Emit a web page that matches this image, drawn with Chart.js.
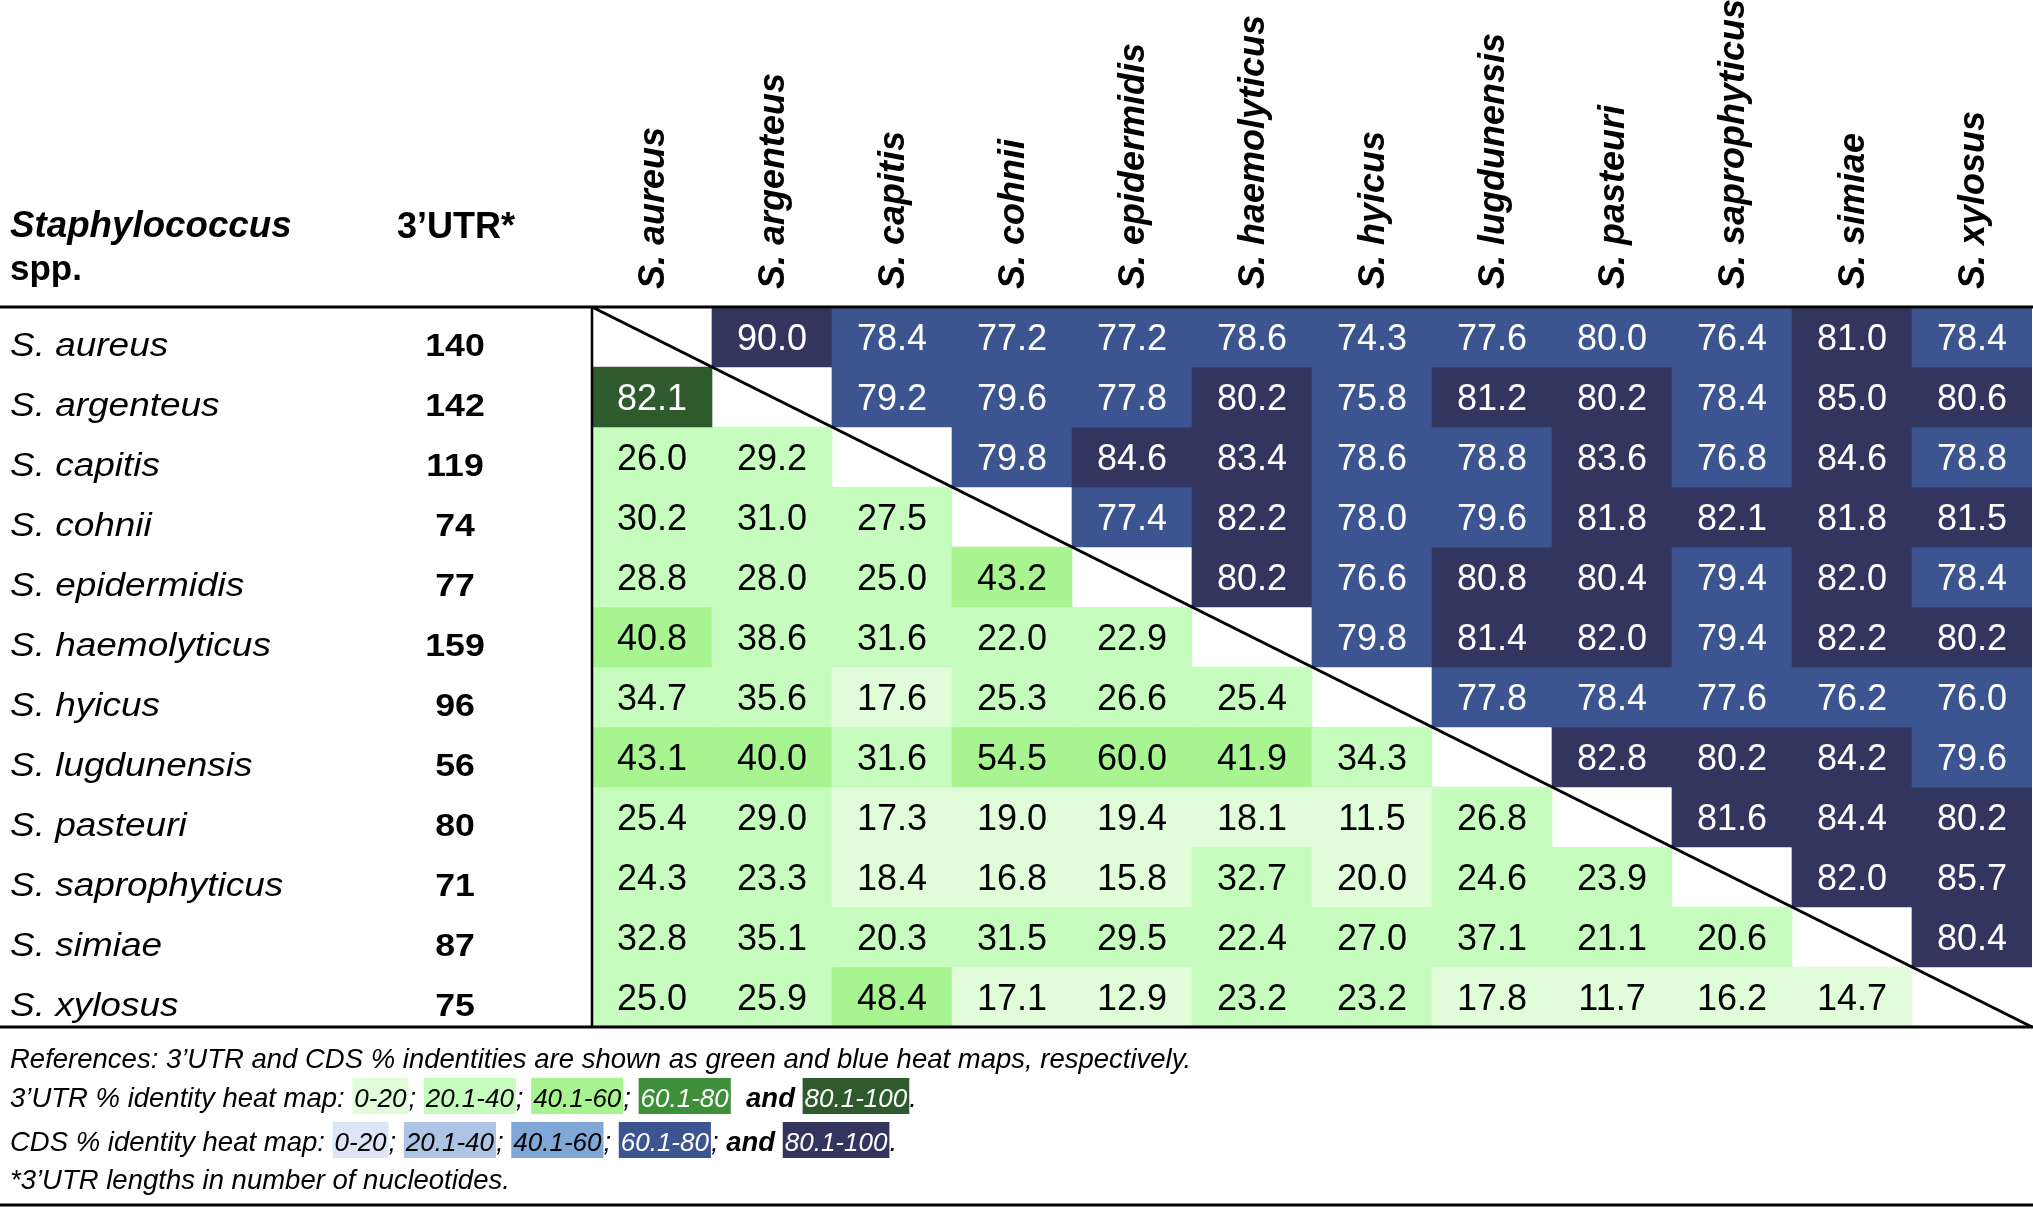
<!DOCTYPE html>
<html><head><meta charset="utf-8">
<script src="https://cdn.jsdelivr.net/npm/chart.js@4.4.1/dist/chart.umd.min.js"></script>
<style>html,body{margin:0;padding:0;background:#fff;overflow:hidden}canvas{display:block}</style>
</head><body>
<canvas id="c" width="2033" height="1208"></canvas>
<script>
// ---------- DATA ----------
const species = ['S. aureus','S. argenteus','S. capitis','S. cohnii','S. epidermidis','S. haemolyticus','S. hyicus','S. lugdunensis','S. pasteuri','S. saprophyticus','S. simiae','S. xylosus'];
const utrLength = [140,142,119,74,77,159,96,56,80,71,87,75];
// below the diagonal: 3'UTR % identity; above the diagonal: CDS % identity
const rowAureus       = [null,90.0,78.4,77.2,77.2,78.6,74.3,77.6,80.0,76.4,81.0,78.4];
const rowArgenteus    = [82.1,null,79.2,79.6,77.8,80.2,75.8,81.2,80.2,78.4,85.0,80.6];
const rowCapitis      = [26.0,29.2,null,79.8,84.6,83.4,78.6,78.8,83.6,76.8,84.6,78.8];
const rowCohnii       = [30.2,31.0,27.5,null,77.4,82.2,78.0,79.6,81.8,82.1,81.8,81.5];
const rowEpidermidis  = [28.8,28.0,25.0,43.2,null,80.2,76.6,80.8,80.4,79.4,82.0,78.4];
const rowHaemolyticus = [40.8,38.6,31.6,22.0,22.9,null,79.8,81.4,82.0,79.4,82.2,80.2];
const rowHyicus       = [34.7,35.6,17.6,25.3,26.6,25.4,null,77.8,78.4,77.6,76.2,76.0];
const rowLugdunensis  = [43.1,40.0,31.6,54.5,60.0,41.9,34.3,null,82.8,80.2,84.2,79.6];
const rowPasteuri     = [25.4,29.0,17.3,19.0,19.4,18.1,11.5,26.8,null,81.6,84.4,80.2];
const rowSaprophyticus= [24.3,23.3,18.4,16.8,15.8,32.7,20.0,24.6,23.9,null,82.0,85.7];
const rowSimiae       = [32.8,35.1,20.3,31.5,29.5,22.4,27.0,37.1,21.1,20.6,null,80.4];
const rowXylosus      = [25.0,25.9,48.4,17.1,12.9,23.2,23.2,17.8,11.7,16.2,14.7,null];
const identityRows = [rowAureus,rowArgenteus,rowCapitis,rowCohnii,rowEpidermidis,rowHaemolyticus,rowHyicus,rowLugdunensis,rowPasteuri,rowSaprophyticus,rowSimiae,rowXylosus];
const binLabels = ['0-20','20.1-40','40.1-60','60.1-80','80.1-100'];

// ---------- STYLE ----------
const utrColors = ['#e0fcd9','#c7fcbf','#a8f490','#3e8f3a','#2f5a2d'];
const cdsColors = ['#dce6f6','#adc4e4','#80a8d6','#3c5591','#32365f'];
const FONT = '"Liberation Sans", Arial, Helvetica, sans-serif';
function utrBin(v){ return v<=20?0: v<40?1: v<=60?2: v<=80?3:4; }
function cdsBin(v){ return v<=20?0: v<=40?1: v<=60?2: v<=80?3:4; }
function cellBin(r,c,v){ return c<r ? utrBin(v) : cdsBin(v); }
function cellColor(r,c,v){ if(v===null) return 'rgba(0,0,0,0)'; const b=cellBin(r,c,v); return c<r?utrColors[b]:cdsColors[b]; }

const datasets = identityRows.map((row,r)=>({
  label: species[r],
  data: row.map(v => v===null ? null : [r, r+1]),
  backgroundColor: row.map((v,c)=>cellColor(r,c,v)),
  borderWidth: 0,
  grouped: false,
  barPercentage: 1.0,
  categoryPercentage: 1.0
}));

function txt(ctx, s, x, y, font, color, align, sx){
  ctx.save();
  ctx.font = font; ctx.fillStyle = color; ctx.textAlign = align||'left'; ctx.textBaseline='alphabetic';
  if (sx && sx!==1){ ctx.translate(x,y); ctx.scale(sx,1); ctx.fillText(s,0,0); }
  else ctx.fillText(s,x,y);
  ctx.restore();
}
function hline(ctx,y,w,x0,x1){ ctx.save(); ctx.strokeStyle='#000'; ctx.lineWidth=w; ctx.beginPath(); ctx.moveTo(x0,y); ctx.lineTo(x1,y); ctx.stroke(); ctx.restore(); }

const tablePlugin = {
  id: 'tablePlugin',
  beforeDraw(chart){
    const ctx=chart.ctx; ctx.save(); ctx.fillStyle='#fff'; ctx.fillRect(0,0,chart.width,chart.height); ctx.restore();
  },
  afterDatasetsDraw(chart){
    const ctx = chart.ctx, ca = chart.chartArea;
    const xs = chart.scales.x, ys = chart.scales.y;
    // cell values
    chart.data.datasets.forEach((ds,r)=>{
      const meta = chart.getDatasetMeta(r);
      meta.data.forEach((el,c)=>{
        const v = identityRows[r][c];
        if (v===null) return;
        const cy = (el.y + el.base)/2;
        const b = cellBin(r,c,v);
        txt(ctx, v.toFixed(1), el.x, cy+13, '36px '+FONT, b>=3?'#fff':'#000', 'center');
      });
    });
    // diagonal
    ctx.save(); ctx.strokeStyle='#000'; ctx.lineWidth=3; ctx.beginPath();
    ctx.moveTo(ca.left, ca.top); ctx.lineTo(ca.right, ca.bottom); ctx.stroke();
    // left border
    ctx.lineWidth=2.5; ctx.beginPath(); ctx.moveTo(ca.left, ca.top); ctx.lineTo(ca.left, ca.bottom); ctx.stroke();
    ctx.restore();
    hline(ctx, ca.top, 3, 0, chart.width);
    hline(ctx, ca.bottom, 3, 0, chart.width);
    hline(ctx, 1205, 3, 0, chart.width);

    // row labels and 3'UTR lengths
    species.forEach((s,r)=>{
      const yTop = ys.getPixelForValue(r);
      txt(ctx, s, 10, yTop+49, 'italic 33px '+FONT, '#000', 'left', 1.12);
      txt(ctx, String(utrLength[r]), 455, yTop+49, 'bold 31px '+FONT, '#000', 'center', 1.15);
    });
    // column headers (rotated)
    species.forEach((s,c)=>{
      const x = xs.getPixelForValue(c);
      ctx.save(); ctx.translate(x+12, 289); ctx.rotate(-Math.PI/2);
      ctx.font = 'italic bold 36px '+FONT; ctx.fillStyle='#000'; ctx.textAlign='left'; ctx.textBaseline='alphabetic';
      ctx.fillText(s,0,0); ctx.restore();
    });
    // header texts
    txt(ctx, 'Staphylococcus', 10, 237, 'italic bold 36px '+FONT, '#000', 'left', 1.02);
    txt(ctx, 'spp.', 10, 280, 'bold 35px '+FONT, '#000', 'left');
    txt(ctx, '3\u2019UTR*', 456, 238, 'bold 36px '+FONT, '#000', 'center');

    // footer
    const ff = 'italic 27.5px '+FONT;
    const fb = 'italic bold 27.5px '+FONT;
    const fl = 'italic 26px '+FONT;
    txt(ctx, 'References: 3\u2019UTR and CDS % indentities are shown as green and blue heat maps, respectively.', 10, 1068, ff, '#000', 'left');
    function legendLine(y, prefix, colors, seps){
      ctx.save(); ctx.textBaseline='alphabetic'; ctx.textAlign='left';
      let x = 10;
      ctx.font = ff; ctx.fillStyle='#000'; ctx.fillText(prefix, x, y); x += ctx.measureText(prefix).width;
      binLabels.forEach((lab,i)=>{
        ctx.font = fl;
        const w = ctx.measureText(lab).width;
        ctx.fillStyle = colors[i]; ctx.fillRect(x, y-29, w+4, 36);
        ctx.fillStyle = i>=3 ? '#fff' : '#000'; ctx.fillText(lab, x+2, y);
        x += w+4;
        // separator: punctuation regular, "and" bold
        const parts = seps[i].split(/(and)/);
        parts.forEach(p=>{
          if(!p) return;
          ctx.font = p==='and' ? fb : ff; ctx.fillStyle='#000';
          ctx.fillText(p, x, y); x += ctx.measureText(p).width;
        });
      });
      ctx.restore();
    }
    legendLine(1107, '3\u2019UTR % identity heat map: ', utrColors, ['; ','; ','; ','  and ','.']);
    legendLine(1151, 'CDS % identity heat map: ', cdsColors, ['; ','; ','; ','; and ','.']);
    txt(ctx, '*3\u2019UTR lengths in number of nucleotides.', 10, 1189, ff, '#000', 'left');
  }
};

new Chart(document.getElementById('c'), {
  type: 'bar',
  data: { labels: species, datasets },
  options: {
    responsive: false, animation: false, devicePixelRatio: 1,
    layout: { padding: { left: 592, right: 1, top: 307, bottom: 181 } },
    plugins: { legend: { display: false }, tooltip: { enabled: false } },
    scales: {
      x: { type: 'category', display: false, offset: true, grid: { display: false } },
      y: { type: 'linear', display: false, min: 0, max: 12, reverse: true }
    }
  },
  plugins: [tablePlugin]
});
</script>
</body></html>
